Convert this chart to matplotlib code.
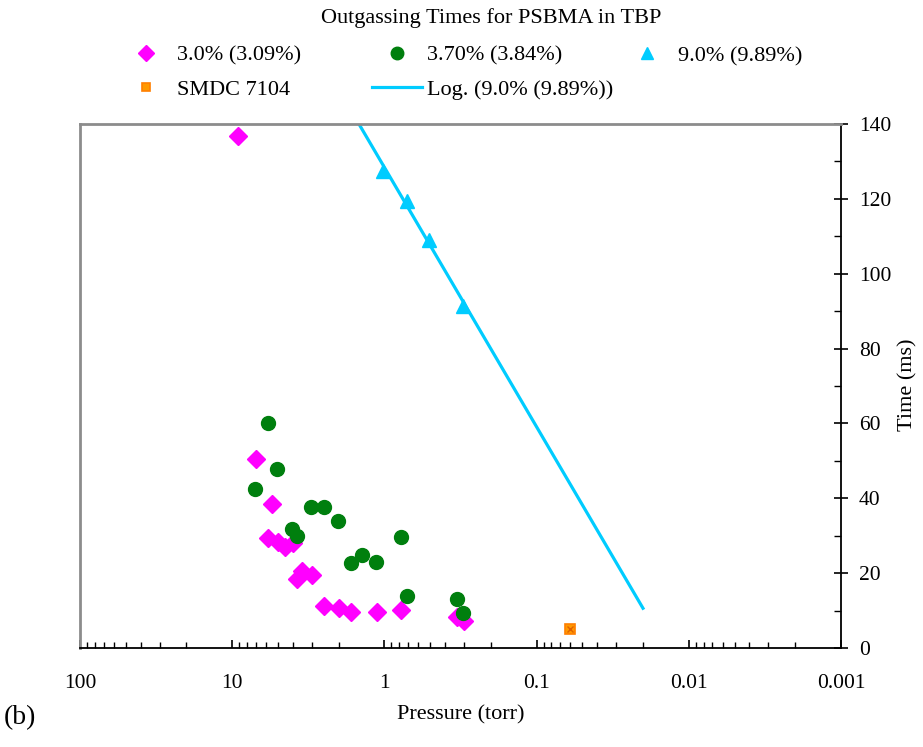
import numpy as np
import matplotlib
matplotlib.use("Agg")
import matplotlib.pyplot as plt
from matplotlib.ticker import FixedLocator, LogLocator, NullFormatter, MultipleLocator

plt.rcParams['font.family'] = ['Liberation Serif', 'DejaVu Serif']

# ---- data ----
p_30 = [9.19, 7.0, 5.5, 5.81, 5.0, 4.47, 3.98, 3.48, 3.77, 2.99, 2.48, 2.0, 1.66, 1.12, 0.774, 0.334, 0.302]
t_30 = [136.8, 50.6, 38.5, 29.3, 28.2, 27.1, 28.0, 20.5, 18.4, 19.6, 11.3, 10.8, 9.5, 9.5, 10.2, 8.3, 7.1]

p_37 = [5.81, 5.05, 7.03, 3.02, 2.49, 2.02, 4.02, 3.77, 0.783, 1.41, 1.67, 1.13, 0.711, 0.334, 0.303]
t_37 = [60.2, 47.8, 42.5, 37.8, 37.8, 33.9, 31.9, 29.9, 29.6, 24.8, 22.6, 22.9, 14.0, 13.2, 9.4]

p_90 = [1.02, 0.707, 0.507, 0.303]
t_90 = [127.5, 119.5, 109.0, 91.4]

p_smdc = [0.0607]
t_smdc = [5.15]

trend_range = [2.0, 0.02]

x_ticks = [100, 10, 1, 0.1, 0.01, 0.001]
x_labels = ['100', '10', '1', '0.1', '0.01', '0.001']
y_ticks = [0, 20, 40, 60, 80, 100, 120, 140]

labels = ['3.0% (3.09%)', '3.70% (3.84%)', '9.0% (9.89%)', 'SMDC 7104', 'Log. (9.0% (9.89%))']

# ---- figure ----
W, H = 923, 747
fig = plt.figure(figsize=(W / 100, H / 100), dpi=100)

def fx(px):
    return px / W

def fy(py):
    return 1 - py / H

L, R, T, B = 80, 841, 124, 648
ax = fig.add_axes([fx(L), fy(B), fx(R) - fx(L), fy(T) - fy(B)])

MAG = '#FF00FF'
GRN = '#007F0E'
CYN = '#00CCFF'
ORG = '#FF9900'

h1, = ax.plot(p_30, t_30, linestyle='none', marker='D', markersize=9, color=MAG, zorder=3)
h2, = ax.plot(p_37, t_37, linestyle='none', marker='o', markersize=10, color=GRN, zorder=4)

# logarithmic trend line for the 9.0% series
coef = np.polyfit(np.log(p_90), t_90, 1)
xt = np.logspace(np.log10(trend_range[0]), np.log10(trend_range[1]), 200)
h5, = ax.plot(xt, coef[0] * np.log(xt) + coef[1], color=CYN, linewidth=2.3, zorder=2)

h3, = ax.plot(p_90, t_90, linestyle='none', marker='^', markersize=10, color=CYN, zorder=5)
h4, = ax.plot(p_smdc, t_smdc, linestyle='none', marker='s', markersize=7, color=ORG,
              markeredgecolor='#FF7F00', markeredgewidth=1.2, zorder=5)
ax.plot(p_smdc, t_smdc, linestyle='none', marker='x', markersize=5, color='#E06000',
        markeredgewidth=1.0, zorder=6)

ax.set_xscale('log')
ax.set_xlim(100, 0.001)
ax.set_ylim(0, 140)

ax.xaxis.set_major_locator(FixedLocator(x_ticks))
ax.set_xticklabels(x_labels)
ax.xaxis.set_minor_locator(LogLocator(base=10, subs=np.arange(2, 10), numticks=50))
ax.xaxis.set_minor_formatter(NullFormatter())

ax.yaxis.tick_right()
ax.set_yticks(y_ticks)
ax.yaxis.set_minor_locator(MultipleLocator(10))

ax.tick_params(axis='x', which='major', direction='in', length=6, width=1.2, labelsize=15.5, pad=18.5, colors='black')
ax.tick_params(axis='x', which='minor', direction='in', length=4, width=1.0)
ax.tick_params(axis='y', which='major', direction='inout', length=10, width=1.2, labelsize=15.5, pad=8)
ax.tick_params(axis='y', which='minor', direction='in', length=5, width=1.0)

for s in ['top', 'left']:
    ax.spines[s].set_color('#8C8C8C')
    ax.spines[s].set_linewidth(2.0)
for s in ['bottom', 'right']:
    ax.spines[s].set_color('black')
    ax.spines[s].set_linewidth(1.3)

ax.set_xlabel('Pressure (torr)', fontsize=16, labelpad=9)
fig.text(fx(908), fy(385), 'Time (ms)', rotation=90, ha='center', va='center', fontsize=16)

fig.text(fx(491), fy(18), 'Outgassing Times for PSBMA in TBP', ha='center', va='center', fontsize=16)
fig.text(fx(4), fy(718), '(b)', ha='left', va='center', fontsize=20)

leg_kw = dict(frameon=False, fontsize=16, handlelength=2.25, handletextpad=0.25,
              borderpad=0, borderaxespad=0, labelspacing=0.6, numpoints=1, markerscale=0.9)
l1 = fig.legend([h1, h4], [labels[0], labels[3]], loc='center left',
                bbox_to_anchor=(fx(121), fy(72.5)), **leg_kw)
l2 = fig.legend([h2, h5], [labels[1], labels[4]], loc='center left',
                bbox_to_anchor=(fx(371.5), fy(72.5)), **leg_kw)
l3 = fig.legend([h3], [labels[2]], loc='center left',
                bbox_to_anchor=(fx(622), fy(55.8)), **leg_kw)

fig.savefig('out.png', dpi=100)
